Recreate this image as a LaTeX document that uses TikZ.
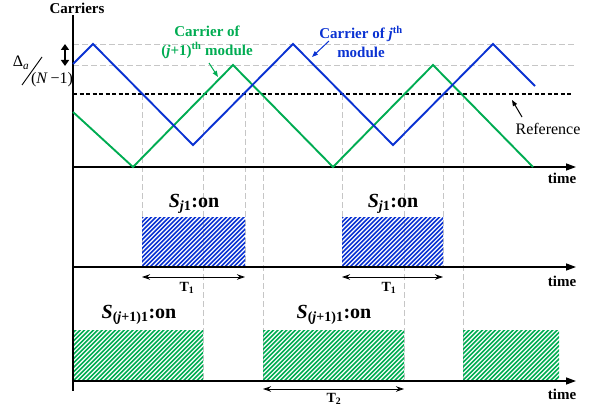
\documentclass[tikz,border=0pt]{standalone}
\usepackage{fontspec}
\setmainfont{Liberation Serif}
\usetikzlibrary{arrows.meta}
\definecolor{cblue}{RGB}{10,50,210}
\definecolor{cgreen}{RGB}{0,172,82}
\newcommand\hatchrect[5]{%
  \begin{scope}
    \clip (#2,#3) rectangle (#4,#5);
    \foreach \k in {0,...,48}
      \draw[#1,stripe] ({#2-60+4.4*\k},#5+2) -- ++(64,-64);
  \end{scope}}
\begin{document}
\begin{tikzpicture}[x=1pt,y=-1pt,
  axisline/.style={line width=1.3pt,-{Triangle[length=10pt,width=7pt]}},
  guide/.style={gray!45,line width=0.8pt,dash pattern=on 6pt off 3pt},
  refline/.style={line width=1.9pt,dash pattern=on 4pt off 2.5pt},
  wave/.style={line width=1.9pt,line join=miter},
  stripe/.style={line width=1.6pt},
  lbl/.style={font=\fontsize{15}{17}\selectfont\bfseries,inner sep=0pt},
  swlbl/.style={font=\fontsize{20}{22}\selectfont\bfseries,inner sep=0pt},
  tlbl/.style={font=\fontsize{14}{16}\selectfont\bfseries,inner sep=0pt},
  plain/.style={font=\fontsize{16}{18}\selectfont,inner sep=0pt},
  span/.style={line width=0.9pt,{Stealth[length=8pt,width=5.5pt]}-{Stealth[length=8pt,width=5.5pt]}},
  note/.style={line width=1pt,-{Triangle[length=6pt,width=4.5pt]}}
]
\useasboundingbox (0,0) rectangle (599,406);

% guides
\draw[guide] (73,44) -- (576,44);
\draw[guide] (73,65) -- (576,65);
\foreach \x in {142,245,342,443} \draw[guide] (\x,94) -- (\x,267);
\foreach \x in {203,263,404,463} \draw[guide] (\x,94) -- (\x,381);

% switching boxes
\hatchrect{cblue}{142}{217}{245}{267}
\hatchrect{cblue}{342}{217}{443}{267}
\hatchrect{cgreen}{74}{330}{203}{381}
\hatchrect{cgreen}{263}{330}{404}{381}
\hatchrect{cgreen}{463}{330}{559}{381}

% axes
\coordinate (ytop) at (73,15);
\coordinate (ybot) at (73,391);
\draw[line width=1.3pt] (ytop) -- (ybot);
\coordinate (a1s) at (73,167); \coordinate (a1e) at (576,167);
\coordinate (a2s) at (73,267); \coordinate (a2e) at (576,267);
\coordinate (a3s) at (73,381); \coordinate (a3e) at (576,381);
\draw[axisline] (a1s) -- (a1e);
\draw[axisline] (a2s) -- (a2e);
\draw[axisline] (a3s) -- (a3e);
\node[lbl] (carriers) at (77,8) {Carriers};
\node[lbl] (time1) at (562,178) {time};
\node[lbl] (time2) at (562,281) {time};
\node[lbl] (time3) at (562,394) {time};

% reference
\draw[refline] (73,94) -- (571,94);

% carriers
\draw[wave,cgreen] (73,112) -- (133,167) -- (233,65) -- (333,167) -- (433,65) -- (533,167);
\draw[wave,cblue] (73,64) -- (93,44) -- (193,145) -- (293,44) -- (393,145) -- (493,44) -- (535,86);

% left amplitude mark
\coordinate (dtop) at (65,44);
\coordinate (dbot) at (65,66);
\draw[line width=2pt,{Triangle[length=6pt,width=8pt]}-{Triangle[length=6pt,width=8pt]}] (dtop) -- (dbot);
\node[plain] (delta) at (21,63) {Δ\textsubscript{\textit{a}}};
\coordinate (sl1) at (22,85); \coordinate (sl2) at (42,57);
\draw[line width=0.9pt] (sl1) -- (sl2);
\node[plain] (nm1) at (52,80) {(\textit{N}\,−1)};

% carrier labels
\node[lbl,text=cgreen,align=center] (glbl) at (207,42) {Carrier of\\[2pt](\textit{j}+1)\textsuperscript{th} module};
\coordinate (ga1) at (209,63); \coordinate (ga2) at (218,77);
\draw[note,cgreen] (ga1) -- (ga2);
\node[lbl,text=cblue,align=center] (blbl) at (361,42) {Carrier of \textit{j}\textsuperscript{th}\\[2pt]module};
\coordinate (ba1) at (329,41); \coordinate (ba2) at (312,57);
\draw[note,cblue] (ba1) -- (ba2);
\node[plain] (reflbl) at (548,129) {Reference};
\coordinate (ra1) at (522,117); \coordinate (ra2) at (512,100);
\draw[note] (ra1) -- (ra2);

% switch labels
\node[swlbl] (s1) at (194,204) {\textit{S}\textsubscript{\textit{j}1}:on};
\node[swlbl] (s2) at (393,204) {\textit{S}\textsubscript{\textit{j}1}:on};
\node[swlbl] (s3) at (139,315) {\textit{S}\textsubscript{(\textit{j}+1)1}:on};
\node[swlbl] (s4) at (334,315) {\textit{S}\textsubscript{(\textit{j}+1)1}:on};

% spans
\coordinate (t1a) at (142,277); \coordinate (t1b) at (245,277);
\draw[span] (t1a) -- (t1b);
\node[tlbl] (t1l) at (187,288) {T\textsubscript{1}};
\coordinate (t1c) at (342,277); \coordinate (t1d) at (443,277);
\draw[span] (t1c) -- (t1d);
\node[tlbl] (t1m) at (389,288) {T\textsubscript{1}};
\coordinate (t2a) at (263,389); \coordinate (t2b) at (404,389);
\draw[span] (t2a) -- (t2b);
\node[tlbl] (t2l) at (334,399) {T\textsubscript{2}};
\end{tikzpicture}
\end{document}
